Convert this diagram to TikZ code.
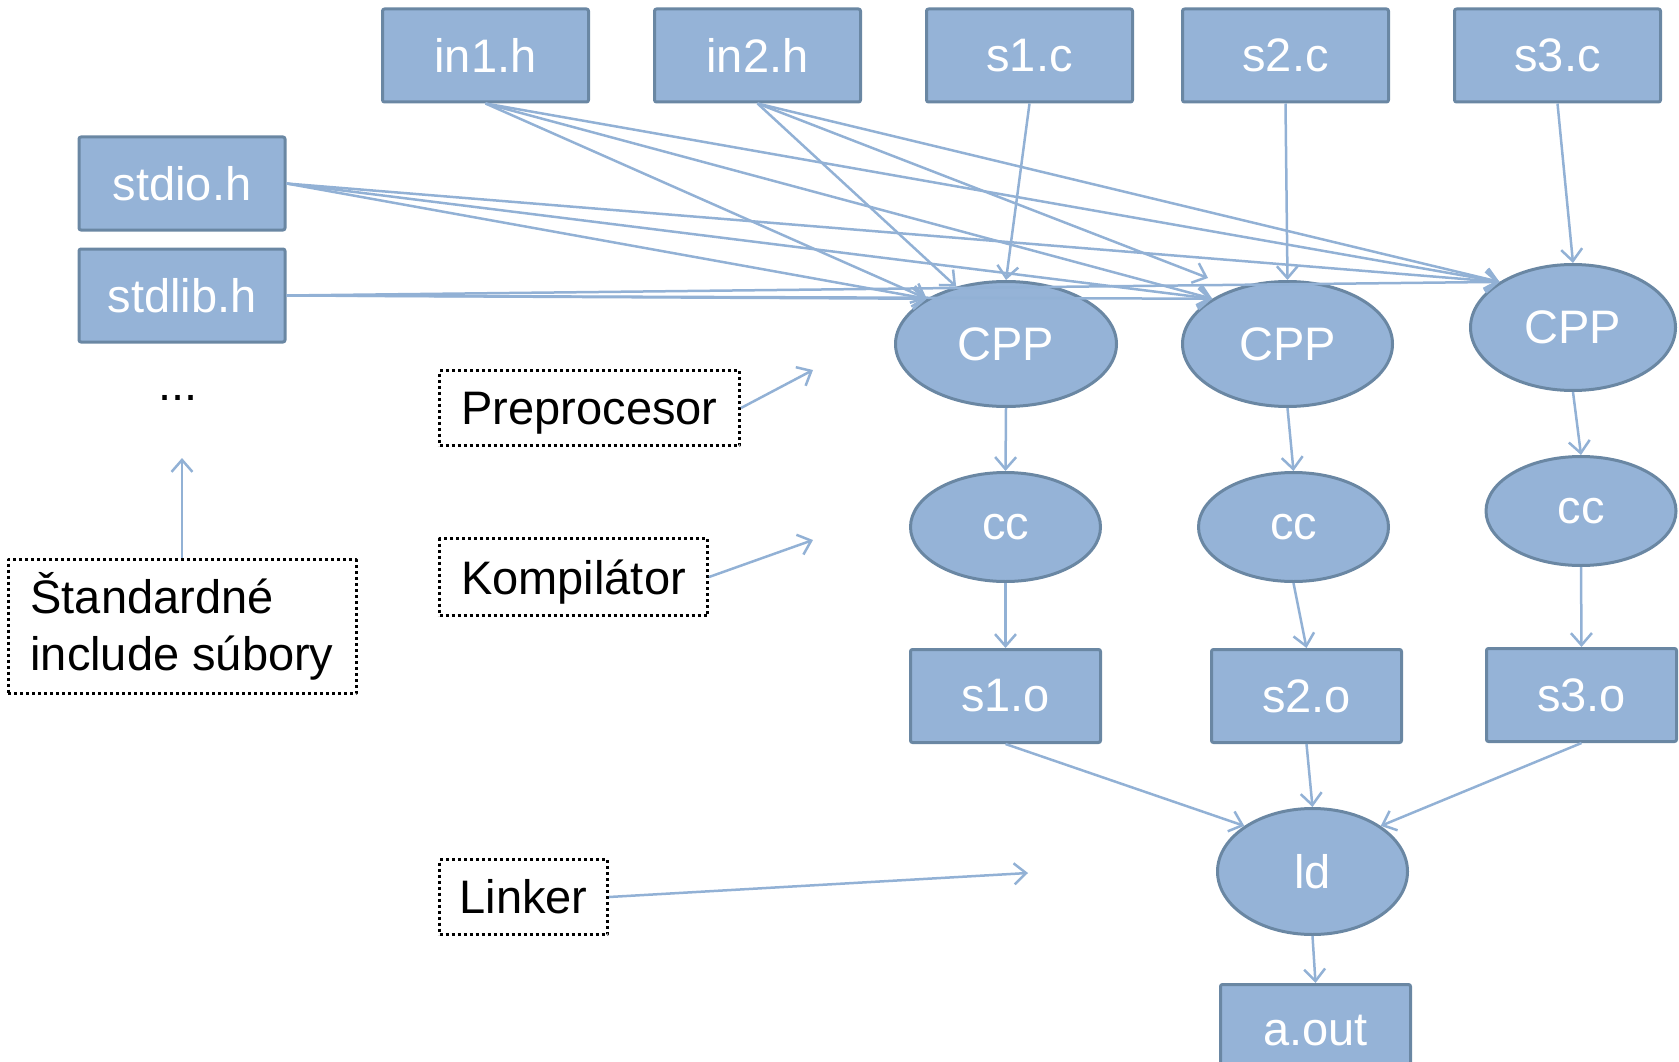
\documentclass[tikz,border=0pt]{standalone}
\usepackage{fontspec}
\setmainfont{Liberation Sans}
\usetikzlibrary{shapes.geometric,arrows.meta}
\definecolor{fillblue}{HTML}{95B3D7}
\definecolor{edgeblue}{HTML}{6A87A3}
\definecolor{arrowblue}{HTML}{92B1D5}
\begin{document}
\begin{tikzpicture}[x=1pt, y=-1pt, font=\fontsize{47}{57}\selectfont, line join=round,
    >={Straight Barb[length=12pt,width=21pt]},
    filebox/.style={draw=edgeblue, line width=3pt, fill=fillblue, text=white, rounded corners=2pt,
      minimum width=206pt, minimum height=93pt, inner sep=0pt},
    objbox/.style={filebox, minimum width=190pt},
    prog/.style={ellipse, draw=edgeblue, line width=3pt, fill=fillblue, text=white, inner sep=0pt,
      minimum width=190pt, minimum height=109pt},
    note/.style={draw, line width=3pt, dash pattern=on 3pt off 3pt, align=left, inner sep=0pt},
    flow/.style={->, draw=arrowblue, line width=2.5pt}]
    \useasboundingbox (0,0) rectangle (1679,1062);
    \clip (0,0) rectangle (1679,1062);
    \node[filebox] (in1) at (485.5,55.5) {in1.h};
    \node[filebox] (in2) at (757.5,55.5) {in2.h};
    \node[filebox] (s1c) at (1029.5,55.5) {s1.c};
    \node[filebox] (s2c) at (1285.5,55.5) {s2.c};
    \node[filebox] (s3c) at (1557.5,55.5) {s3.c};
    \node[filebox] (stdio) at (182,183.5) {stdio.h};
    \node[filebox] (stdlib) at (182,295.5) {stdlib.h};
    \node[prog, minimum width=221pt, minimum height=125pt] (cpp1) at (1006,344) {CPP};
    \node[prog, minimum width=210pt, minimum height=125pt] (cpp2) at (1287.5,344) {CPP};
    \node[prog, minimum width=205pt, minimum height=126pt] (cpp3) at (1573,327.5) {CPP};
    \node[prog] (cc1) at (1005.5,527) {cc};
    \node[prog] (cc2) at (1293.5,527) {cc};
    \node[prog] (cc3) at (1581,511) {cc};
    \node[objbox] (s1o) at (1005.5,696) {s1.o};
    \node[objbox] (s2o) at (1306.5,696) {s2.o};
    \node[objbox] (s3o) at (1581.5,695) {s3.o};
    \node[prog, minimum height=126pt] (ld) at (1312.5,871.5) {ld};
    \node[objbox] (aout) at (1315.5,1031) {a.out};
    \node[note, minimum width=348pt, minimum height=134pt] (stdinc) at (182,626.5) {Štandardné\\include súbory};
    \node (dots) at (178,398) {...};
    \node[note, minimum width=300pt, minimum height=75pt, text depth=0pt] (prep) at (589.5,408) {Preprocesor};
    \node[note, minimum width=268pt, minimum height=77pt, text depth=0pt] (komp) at (573.5,577) {Kompilátor};
    \node[note, minimum width=168pt, minimum height=75pt] (link) at (523.5,897) {Linker};
    \coordinate (prepTip) at (813,370);
    \coordinate (kompTip) at (813,540);
    \coordinate (linkTip) at (1028,873);
    \coordinate (dotsTip) at (182,458);
    \coordinate (in2Tip) at (1208,278);
    \foreach \c in {cpp1,cpp2,cpp3} {
      \draw[flow] (in1.south) -- (\c.north west);
      \draw[flow] (stdio.east) -- (\c.north west);
      \draw[flow] (stdlib.east) -- (\c.north west);
    }
    \draw[flow] (in2.south) -- (cpp1.131);
    \draw[flow] (in2.south) -- (in2Tip);
    \draw[flow] (in2.south) -- (cpp3.north west);
    \foreach \a/\b in {s1c/cpp1, s2c/cpp2, s3c/cpp3, cpp1/cc1, cpp2/cc2, cpp3/cc3, cc1/s1o, cc2/s2o, cc3/s3o, s2o/ld, ld/aout}
      \draw[flow] (\a.south) -- (\b.north);
    \draw[flow] (s1o.south) -- (ld.north west);
    \draw[flow] (s3o.south) -- (ld.north east);
    \draw[flow] (stdinc.north) -- (dotsTip);
    \draw[flow] (prep.east) -- (prepTip);
    \draw[flow] (komp.east) -- (kompTip);
    \draw[flow] (link.east) -- (linkTip);
\end{tikzpicture}
\end{document}
